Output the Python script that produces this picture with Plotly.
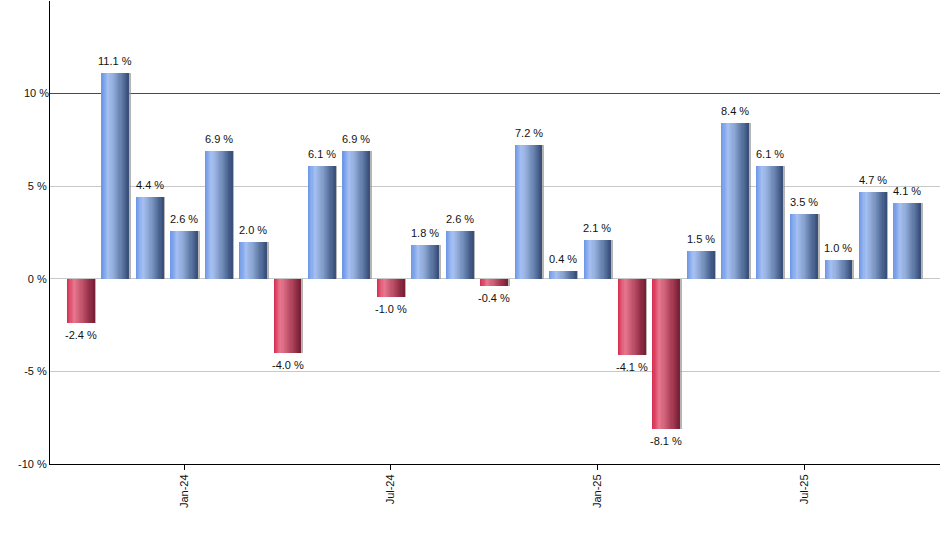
import plotly.graph_objects as go

months = ["Oct-23", "Nov-23", "Dec-23", "Jan-24", "Feb-24", "Mar-24", "Apr-24", "May-24",
          "Jun-24", "Jul-24", "Aug-24", "Sep-24", "Oct-24", "Nov-24", "Dec-24", "Jan-25",
          "Feb-25", "Mar-25", "Apr-25", "May-25", "Jun-25", "Jul-25", "Aug-25", "Sep-25", "Oct-25"]
returns = [-2.4, 11.1, 4.4, 2.6, 6.9, 2.0, -4.0, 6.1, 6.9, -1.0, 1.8, 2.6, -0.4, 7.2, 0.4, 2.1,
           -4.1, -8.1, 1.5, 8.4, 6.1, 3.5, 1.0, 4.7, 4.1]
tick_labels = ["Jan-24", "Jul-24", "Jan-25", "Jul-25"]
y_ticks = [-10, -5, 0, 5, 15]
y_tick_text = ["-10 %", "-5 %", "0 %", "5 %", ""]
ref_ticks = [10]
ref_tick_text = ["10 %"]

x = list(range(len(months)))
tick_pos = [months.index(t) for t in tick_labels]

blue_stops = [(0.0, (106, 149, 230)), (0.25, (166, 193, 243)), (0.5, (138, 163, 208)),
              (0.75, (95, 122, 168)), (1.0, (55, 77, 118))]
red_stops = [(0.0, (212, 42, 78)), (0.25, (232, 121, 143)), (0.5, (200, 90, 114)),
             (0.75, (163, 58, 82)), (1.0, (118, 30, 54))]


def grad(stops, t):
    for (t0, c0), (t1, c1) in zip(stops[:-1], stops[1:]):
        if t <= t1:
            f = (t - t0) / (t1 - t0)
            c = [round(a + (b - a) * f) for a, b in zip(c0, c1)]
            return "rgb(%d,%d,%d)" % tuple(c)
    return "rgb(%d,%d,%d)" % stops[-1][1]


W = 0.78
N = 24
FONT = "Liberation Sans, Arial"
fig = go.Figure()

# shadow
fig.add_trace(go.Bar(x=x, y=returns, width=0.07, offset=W / 2 - 0.01,
                     marker=dict(color="rgba(150,150,150,0.7)", line=dict(width=0)),
                     hoverinfo="skip", showlegend=False))

for k in range(N):
    t = (k + 0.5) / N
    cols = [grad(blue_stops, t) if v >= 0 else grad(red_stops, t) for v in returns]
    fig.add_trace(go.Bar(x=x, y=returns, width=W / N + 0.006, offset=-W / 2 + k * W / N,
                         marker=dict(color=cols, line=dict(width=0)),
                         hoverinfo="skip", showlegend=False))

for xi, v in zip(x, returns):
    fig.add_annotation(x=xi, y=v, text="%.1f %%" % v, showarrow=False,
                       yanchor="bottom" if v >= 0 else "top",
                       yshift=4 if v >= 0 else -4,
                       font=dict(family=FONT, size=11, color="#111"))

# invisible trace to activate the overlay axis holding the 10 % reference line
fig.add_trace(go.Scatter(x=[x[0]], y=[returns[0]], yaxis="y2", mode="markers",
                         marker=dict(opacity=0), hoverinfo="skip", showlegend=False))

fig.update_layout(
    width=940, height=550, barmode="overlay", bargap=0,
    margin=dict(l=50, r=0, t=1, b=86, autoexpand=False),
    plot_bgcolor="white", paper_bgcolor="white",
    font=dict(family=FONT, size=11, color="#111"),
    xaxis=dict(range=[-0.9, 24.95], tickmode="array", tickvals=tick_pos, ticktext=tick_labels,
               tickangle=-90, ticks="outside", ticklen=5, tickcolor="black", automargin=False,
               tickfont=dict(size=11),
               showgrid=False, zeroline=False, showline=True, linecolor="black", linewidth=1),
    yaxis=dict(range=[-10, 15], tickmode="array", tickvals=y_ticks, ticktext=y_tick_text,
               ticks="", automargin=False, tickfont=dict(size=11),
               showgrid=True, gridcolor="#c8c8c8", gridwidth=1,
               zeroline=True, zerolinecolor="#c8c8c8", zerolinewidth=1,
               showline=True, linecolor="black", linewidth=1),
    yaxis2=dict(range=[-10, 15], overlaying="y", side="left", tickmode="array",
                tickvals=ref_ticks, ticktext=ref_tick_text,
                ticks="", automargin=False, tickfont=dict(size=11),
                showgrid=True, gridcolor="#1a6b1a", gridwidth=1, zeroline=False,
                showline=False),
)

fig.write_html("out.html", config={"displayModeBar": False},
               post_script="document.body.style.margin='0';")
